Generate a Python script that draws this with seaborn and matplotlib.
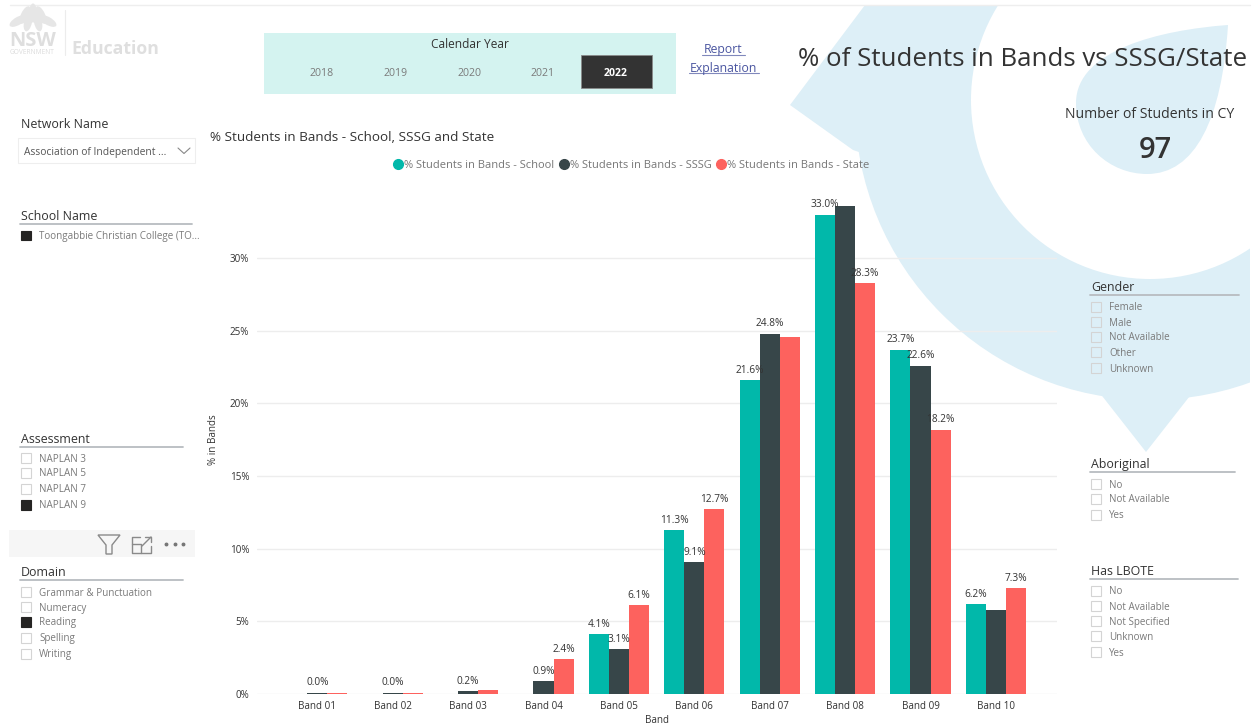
import pandas as pd
import seaborn as sns
import matplotlib.pyplot as plt
from matplotlib.patches import Rectangle, Polygon, Circle, Ellipse, PathPatch
from matplotlib.path import Path

# values
bands = ["Band 01", "Band 02", "Band 03", "Band 04", "Band 05",
         "Band 06", "Band 07", "Band 08", "Band 09", "Band 10"]
school = [0.0, 0.0, 0.0, 0.0, 4.1, 11.3, 21.6, 33.0, 23.7, 6.2]
sssg = [0.1, 0.1, 0.2, 0.9, 3.1, 9.1, 24.8, 33.6, 22.6, 5.8]
state = [0.1, 0.1, 0.3, 2.4, 6.1, 12.7, 24.6, 28.3, 18.2, 7.3]

# the report hides labels that would collide
school_labels = ["", "", "", "", "4.1%", "11.3%", "21.6%", "33.0%", "23.7%", "6.2%"]
sssg_labels = ["0.0%", "0.0%", "0.2%", "0.9%", "3.1%", "9.1%", "24.8%", "", "22.6%", ""]
state_labels = ["", "", "", "2.4%", "6.1%", "12.7%", "", "28.3%", "18.2%", "7.3%"]

series_names = ["% Students in Bands - School", "% Students in Bands - SSSG", "% Students in Bands - State"]
series_colors = ["#01B8AA", "#374649", "#FD625E"]
y_ticks = [0, 5, 10, 15, 20, 25, 30]

years = ["2018", "2019", "2020", "2021", "2022"]
assessment_items = ["NAPLAN 3", "NAPLAN 5", "NAPLAN 7", "NAPLAN 9"]
domain_items = ["Grammar & Punctuation", "Numeracy", "Reading", "Spelling", "Writing"]
gender_items = ["Female", "Male", "Not Available", "Other", "Unknown"]
aboriginal_items = ["No", "Not Available", "Yes"]
lbote_items = ["No", "Not Available", "Not Specified", "Unknown", "Yes"]

W, H = 1255, 727
FONT = ["Open Sans", "DejaVu Sans"]
DARK = "#333333"
GREY = "#7a7a7a"
PALE_BLUE = "#DDEFF7"

sns.set_theme(style="white")
plt.rcParams["font.family"] = FONT

fig = plt.figure(figsize=(W / 100, H / 100), dpi=100, facecolor="white")

# full page layer in pixel coordinates for the dashboard furniture
bg = fig.add_axes([0, 0, 1, 1], zorder=0)
bg.set_xlim(0, W)
bg.set_ylim(H, 0)
bg.axis("off")
top = fig.add_axes([0, 0, 1, 1], zorder=5)
top.set_xlim(0, W)
top.set_ylim(H, 0)
top.axis("off")
top.patch.set_alpha(0)

# pale watermark behind the chart
page = Rectangle((0, 5), 1250, H, transform=bg.transData)
for patch in [
    Circle((1150, 105), 295, fc=PALE_BLUE, ec="none"),
    Polygon([(790, 105), (865, 5), (1000, 5), (1000, 200), (853, 150)], fc=PALE_BLUE, ec="none"),
    Polygon([(1099, 392), (1146, 452), (1193, 392)], fc=PALE_BLUE, ec="none"),
    Circle((1150, 100), 179, fc="white", ec="none"),
    PathPatch(Path([(1228, 25), (1160, 30), (1076, 50), (1076, 103), (1076, 145), (1110, 174), (1147, 174),
                    (1195, 174), (1222, 120), (1228, 25)],
                   [Path.MOVETO, Path.CURVE4, Path.CURVE4, Path.CURVE4, Path.CURVE4, Path.CURVE4, Path.CURVE4,
                    Path.CURVE4, Path.CURVE4, Path.CURVE4]), fc=PALE_BLUE, ec="none"),
]:
    bg.add_patch(patch)
    patch.set_clip_path(page)
bg.plot([10, 1250], [5, 5], color="#eeeeee", lw=1)


def txt(x, y, s, size=8, color=DARK, ha="left", **kw):
    # open sans sits a little high with va=center
    top.text(x, y + 1.5, s, fontsize=size, color=color, ha=ha, va="center", **kw)


def slicer(x, y, title, items, line_end, rows, selected=None):
    txt(x, y, title, size=8.9)
    top.plot([x - 1, line_end], [y + 8.5, y + 8.5], color="#b8bcc0", lw=1.3)
    for item, row in zip(items, rows):
        on = item == selected
        top.add_patch(Rectangle((x, row - 5), 9.5, 9.5, fc="#252423" if on else "none",
                                ec="#252423" if on else "#d4d4d4", lw=0.8))
        txt(x + 18, row - 0.5, item, size=7.1, color=GREY)


# logo
for dx, dy, ang in [(0, -7, 0), (-8, -5, 25), (8, -5, -25), (-15, 1, 60), (15, 1, -60), (-5, 2, 12), (5, 2, -12)]:
    top.add_patch(Ellipse((33 + dx, 20 + dy), 8, 19, angle=ang, fc="#e6e6e6", ec="none"))
txt(9, 40, "NSW", size=14.5, color="#dedede", fontweight="bold")
txt(10, 51.5, "GOVERNMENT", size=4.8, color="#dcdcdc")
top.plot([64.5, 64.5], [10, 55], color="#ececec", lw=0.8)
txt(71, 47.5, "Education", size=12.7, color="#dfdfdf", fontweight="bold")

# year slicer
top.add_patch(Rectangle((264, 33), 412, 61, fc="#D4F3F0", ec="none", zorder=0))
txt(470, 43, "Calendar Year", size=8.6, ha="center")
top.add_patch(Rectangle((581, 55), 71, 33, fc="#333333", ec="#8a8a8a", lw=0.6))
for year, x in zip(years, [322, 396, 470, 543, 616]):
    selected = year == "2022"
    txt(x, 72, year, size=7.6, color="white" if selected else GREY, ha="center",
        fontweight="bold" if selected else "normal")

# link
txt(723, 48, "Report", size=8.8, color="#4A55A0", ha="center")
txt(723, 67, "Explanation", size=8.8, color="#4A55A0", ha="center")
top.plot([702, 745], [54.5, 54.5], color="#8088BC", lw=0.8)
top.plot([689, 759], [72.5, 72.5], color="#8088BC", lw=0.8)

txt(1023, 58, "% of Students in Bands vs SSSG/State", size=18.6, ha="center")
txt(1150, 113, "Number of Students in CY", size=10.1, ha="center")
txt(1155, 149, "97", size=21, ha="center", fontweight="semibold")

# left slicers
txt(21, 122.5, "Network Name", size=8.9)
top.add_patch(Rectangle((18, 138), 177, 25, fc="white", ec="#eeeeee", lw=0.8))
txt(24, 151, "Association of Independent ...", size=7.4, color="#555555")
top.plot([178, 184, 190], [148, 153.5, 148], color="#888888", lw=0.8)
slicer(21, 215, "School Name", ["Toongabbie Christian College (TO..."], 192, [235.5],
       selected="Toongabbie Christian College (TO...")
slicer(21, 438, "Assessment", assessment_items, 183, [458, 473, 489, 505], selected="NAPLAN 9")
slicer(21, 571, "Domain", domain_items, 183, [592, 607, 622, 638, 654], selected="Reading")

# visual header icons
top.add_patch(Rectangle((9, 530), 186, 27, fc="#f6f6f6", ec="none", zorder=0))
top.add_patch(Polygon([(98, 535), (120, 535), (112, 545), (112, 554), (106, 554), (106, 545)],
                      fc="none", ec="#8a8a8a", lw=1))
top.plot([140, 132, 132, 151, 151], [537, 537, 553, 553, 546], color="#8a8a8a", lw=1)
top.plot([132, 141, 141], [544, 544, 553], color="#8a8a8a", lw=1)
top.plot([142, 151], [546, 537], color="#8a8a8a", lw=1)
top.plot([145, 151, 151], [537, 537, 542], color="#8a8a8a", lw=1)
top.plot([166, 175, 183], [544, 544, 544], ls="none", marker="o", ms=1.8, color="#777777")

# right slicers
slicer(1091, 286, "Gender", gender_items, 1239, [307, 322, 337, 352, 368])
slicer(1091, 463, "Aboriginal", aboriginal_items, 1235, [484, 499, 515])
slicer(1091, 570, "Has LBOTE", lbote_items, 1238, [591, 606, 621, 636, 652])

# main chart
df = pd.DataFrame({
    "Band": bands * 3,
    "Series": [s for s in series_names for _ in bands],
    "Value": school + sssg + state,
})

ax = fig.add_axes([257 / W, 1 - 694 / H, 800 / W, 504 / H], zorder=2)
ax.patch.set_alpha(0)
sns.barplot(data=df, x="Band", y="Value", hue="Series", hue_order=series_names,
            palette=series_colors, saturation=1, width=0.8, gap=0, errorbar=None, ax=ax, zorder=3,
            legend=False, edgecolor="none", linewidth=0)
ax.set_xlim(-0.80, 9.81)
ax.set_ylim(0, 504 / 14.53)
ax.set_yticks(y_ticks)
ax.set_yticklabels([f"{t}%" for t in y_ticks])
ax.grid(axis="y", color="#ededed", lw=1)
ax.set_axisbelow(True)
sns.despine(ax=ax, left=True, bottom=True)
ax.tick_params(axis="both", length=0, labelsize=7.1, labelcolor=DARK)
ax.tick_params(axis="x", pad=5)
ax.tick_params(axis="y", pad=5.5)
ax.set_xlabel("Band", fontsize=7.1, color=DARK, labelpad=2)
ax.set_ylabel("")
top.text(213, 440, "% in Bands", fontsize=7.1, color=DARK, rotation=90, ha="center", va="center")

for container, labels in zip(ax.containers, [school_labels, sssg_labels, state_labels]):
    ax.bar_label(container, labels=labels, padding=3, fontsize=7.3, color=DARK, zorder=6)

txt(210, 136, "% Students in Bands - School, SSSG and State", size=9.7)

handles = [plt.Line2D([], [], ls="none", marker="o", ms=7, color=c) for c in series_colors]
fig.legend(handles, series_names, loc="center", bbox_to_anchor=(631 / W, 1 - 165 / H), ncol=3, frameon=False,
           fontsize=8, labelcolor="#777777", handlelength=1, handletextpad=0.1, columnspacing=0.3, borderpad=0)

fig.savefig("out.png", dpi=100)
